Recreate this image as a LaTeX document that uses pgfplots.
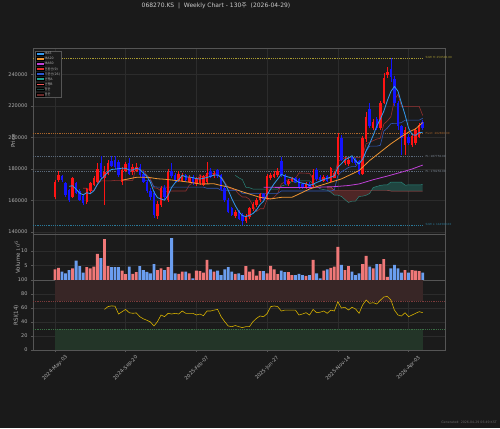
\documentclass[border=0pt]{standalone}
\usepackage{fontspec}
\setmainfont{DejaVu Sans}
\newfontfamily\kr{Noto Sans CJK KR}
\usepackage{pgfplots}
\usepackage{pgfplotstable}
\pgfplotsset{compat=1.18}

\definecolor{bgc}{HTML}{1A1A1A}
\definecolor{axbg}{HTML}{1B1B1B}
\definecolor{framec}{HTML}{555555}
\definecolor{gridc}{HTML}{2C2C2C}
\definecolor{tickc}{HTML}{B0B0B0}
\definecolor{upc}{HTML}{FF1414}
\definecolor{dnc}{HTML}{1414FF}
\definecolor{volup}{HTML}{F07878}
\definecolor{voldn}{HTML}{6B9EF0}
\definecolor{cma5}{HTML}{3399EE}
\definecolor{cma20}{HTML}{F09632}
\definecolor{cma60}{HTML}{C040D8}
\definecolor{cconv}{HTML}{963030}
\definecolor{cbase}{HTML}{3058B8}
\definecolor{cspa}{HTML}{2A8C80}
\definecolor{cspb}{HTML}{B85050}
\definecolor{cbull}{HTML}{1F4540}
\definecolor{cbear}{HTML}{4E2626}
\definecolor{lconv}{HTML}{E03030}
\definecolor{lbase}{HTML}{2A55D0}
\definecolor{lspa}{HTML}{22A090}
\definecolor{lspb}{HTML}{F05555}
\definecolor{lbull}{HTML}{1E4A42}
\definecolor{lbear}{HTML}{6A2828}
\definecolor{hic}{HTML}{A89A30}
\definecolor{pivc}{HTML}{A8642A}
\definecolor{plc}{HTML}{5A6878}
\definecolor{loc}{HTML}{2A7898}
\definecolor{rsic}{HTML}{D4AF00}
\definecolor{obfill}{HTML}{382626}
\definecolor{osfill}{HTML}{233528}
\definecolor{obline}{HTML}{7A3A3A}
\definecolor{osline}{HTML}{3A6E45}

% weekly candles (prices in thousands of KRW), volume in millions
\pgfplotstableread{
i o h l c v
0 162.4 173.0 161.0 171.9 3.7
1 173.0 178.5 172.0 176.2 4.2
5 162.4 175.0 161.5 174.0 4.0
9 159.0 168.0 158.0 167.0 4.4
10 166.0 172.0 165.0 171.0 4.0
11 170.0 175.5 169.0 174.0 4.6
12 172.0 184.0 171.0 180.0 9.0
14 174.5 182.0 157.0 178.0 14.1
15 177.0 186.0 176.0 183.5 4.8
19 172.0 181.0 170.0 179.5 3.2
20 179.0 184.5 178.0 183.0 2.0
22 178.0 183.0 176.0 181.0 2.1
23 179.0 183.5 178.0 181.5 2.7
29 150.0 159.5 148.5 158.0 3.4
30 157.0 169.5 156.0 168.0 4.0
32 160.0 180.0 159.0 178.0 4.4
35 172.5 178.5 172.0 177.0 2.1
36 172.5 177.5 172.0 176.5 2.9
38 172.0 176.0 171.0 175.0 2.3
40 170.5 175.0 169.5 174.0 3.2
41 171.0 176.0 170.0 175.0 3.1
42 170.0 176.5 169.5 175.5 2.5
43 171.5 184.5 170.5 177.5 6.9
45 175.5 178.5 174.5 177.5 2.9
51 150.0 154.0 149.0 152.5 2.1
54 147.0 151.5 145.8 150.0 4.8
55 149.5 156.0 148.5 155.0 2.9
56 154.5 159.0 153.5 158.0 3.7
57 157.0 161.5 156.0 160.0 1.5
58 160.0 165.0 159.0 164.0 3.1
60 161.0 177.0 160.0 175.5 2.3
61 174.5 177.5 173.0 176.0 4.9
62 175.0 178.5 174.0 177.0 3.7
63 176.0 180.5 175.0 178.5 2.0
66 170.5 173.5 169.5 172.5 2.7
67 172.5 175.0 171.5 174.0 1.7
71 168.5 171.5 167.5 170.5 1.4
73 169.0 180.0 168.5 176.5 6.9
76 172.5 176.0 172.0 175.0 3.2
78 172.0 181.5 171.5 180.5 4.2
79 174.5 179.0 174.0 177.5 4.6
80 177.0 203.0 176.5 200.0 11.4
82 183.5 187.5 182.5 185.5 3.4
83 183.0 187.0 182.0 186.0 4.8
87 177.0 201.0 176.0 199.5 5.5
88 199.0 216.0 197.0 213.0 8.3
90 206.0 212.0 204.5 210.0 4.0
92 206.0 223.0 205.0 222.0 5.5
93 222.0 241.0 221.0 238.0 7.2
94 239.5 245.0 238.0 241.5 1.1
99 195.5 206.5 189.0 205.0 3.4
101 195.0 202.5 194.0 201.0 3.4
102 196.5 206.0 195.5 205.0 3.2
103 200.5 209.0 199.5 208.0 3.1
}\upt
\pgfplotstableread{
i o h l c v
2 175.5 176.5 172.0 173.0 2.9
3 171.3 172.0 162.5 163.5 2.3
4 166.5 167.5 159.0 160.3 3.4
6 171.0 172.0 164.0 165.0 6.7
7 166.0 167.0 159.5 160.5 4.8
8 163.0 164.0 157.0 158.2 2.5
13 184.0 188.0 174.0 175.0 7.5
16 185.0 188.0 181.0 182.0 4.4
17 186.0 188.5 180.0 181.0 4.4
18 184.5 186.0 175.0 176.5 4.4
21 184.0 187.0 176.0 177.0 4.6
24 181.5 183.0 175.0 176.0 4.8
25 177.0 178.5 171.0 172.0 3.4
26 172.0 173.0 165.0 166.0 2.8
27 166.0 168.0 160.5 162.0 2.3
28 164.5 166.0 149.0 151.0 5.5
31 168.0 170.0 160.5 162.0 3.4
33 178.5 183.5 174.5 175.5 14.4
34 176.0 177.5 172.0 173.0 2.3
37 176.0 177.0 172.0 173.0 2.9
39 175.0 176.0 170.0 171.0 0.6
44 179.0 180.5 174.0 175.0 3.7
46 179.5 180.0 174.5 175.5 3.2
47 176.0 177.0 166.0 167.0 1.7
48 168.0 169.0 159.0 160.0 3.7
49 160.5 161.5 152.0 153.0 4.4
50 155.0 156.0 150.0 151.0 2.9
52 153.0 154.0 147.5 148.5 2.3
53 151.0 152.0 144.5 147.0 1.7
59 164.0 165.0 160.0 161.0 3.1
64 185.0 187.5 175.0 176.0 3.2
65 176.0 177.0 170.0 170.5 2.7
68 174.0 175.0 171.0 172.0 1.7
69 173.5 174.0 167.5 168.5 2.1
70 170.5 171.0 167.0 168.0 1.7
72 170.5 171.5 167.5 168.5 1.7
74 179.5 180.5 172.5 173.5 2.3
75 175.0 176.0 172.0 173.0 0.6
77 175.5 176.5 171.5 172.5 3.7
81 199.5 201.5 185.0 186.0 5.2
84 187.5 188.5 183.5 184.5 2.9
85 186.0 187.0 182.5 183.5 1.7
86 185.0 186.0 176.0 177.0 2.3
89 218.0 222.0 206.0 207.5 4.6
91 211.5 213.0 205.0 206.0 5.5
95 243.5 250.5 235.0 238.5 4.0
96 237.0 239.0 220.0 222.0 5.2
97 222.0 223.0 205.0 207.0 4.0
98 207.0 208.0 189.0 199.5 2.5
100 200.5 202.0 195.5 196.5 2.5
104 210.0 211.0 204.5 206.0 2.5
}\dnt
\pgfplotstableread{
i v
4 168.98
5 169.4
6 167.16
7 164.66
8 163.6
9 164.94
10 164.34
11 166.14
12 170.04
13 173.4
14 175.6
15 178.1
16 179.7
17 179.9
18 180.2
19 180.5
20 180.4
21 179.4
22 179.4
23 180.4
24 179.7
25 177.5
26 175.3
27 171.5
28 165.4
29 161.8
30 161.0
31 160.2
32 163.4
33 168.3
34 171.3
35 173.1
36 176.0
37 175.0
38 174.9
39 174.5
40 173.9
41 173.6
42 174.1
43 174.6
44 175.4
45 176.1
46 176.2
47 174.5
48 171.0
49 166.6
50 161.3
51 156.7
52 153.0
53 150.4
54 149.8
55 150.6
56 151.7
57 154.0
58 157.4
59 159.6
60 163.7
61 167.3
62 170.7
63 173.6
64 176.6
65 175.6
66 174.9
67 174.3
68 173.0
69 171.5
70 171.0
71 170.6
72 169.5
73 170.4
74 171.4
75 172.4
76 173.3
77 174.1
78 174.9
79 175.7
80 181.1
81 183.3
82 185.9
83 187.0
84 188.4
85 185.1
86 183.3
87 186.1
88 191.5
89 196.1
90 201.4
91 207.2
92 211.7
93 216.7
94 223.5
95 229.2
96 232.4
97 229.4
98 221.7
99 214.4
100 206.0
101 201.8
102 201.4
103 203.1
104 203.3
}\mafive
\pgfplotstableread{
i v
19 172.9
21 173.8
23 174.7
25 174.8
27 174.5
29 173.8
31 173.5
33 173.0
35 172.5
38 171.6
41 170.5
45 170.6
47 169.5
49 168.6
52 166.3
55 164.1
58 162.0
61 161.0
64 162.0
67 162.0
69 164.1
72 167.3
75 169.5
78 171.6
81 173.7
83 175.8
86 179.0
89 185.4
92 190.7
95 196.0
98 200.6
100 203.4
102 205.5
104 209.5
}\matwenty
\pgfplotstableread{
i v
59 168.4
65 168.3
70 168.2
74 168.4
79 168.8
83 169.5
86 170.5
90 173.2
94 175.5
98 178.0
101 180.0
104 182.5
}\masixty
\pgfplotstableread{
i v
8 167.75
9 167.75
10 166.75
11 166.25
12 170.5
13 172.5
16 172.5
17 172.75
22 172.75
23 181.75
24 179.25
25 179.25
26 176
27 173.75
28 168
29 167.75
30 166
32 165.75
33 166
37 166
38 169.75
39 171.25
40 171.25
41 176.5
42 174
43 177
46 177
47 175.25
48 171.75
49 168.25
50 167.25
51 166.75
52 164
53 162.25
54 162.25
55 160.75
56 156.75
57 153
58 154.75
59 154.75
60 160.75
61 161
62 162.15
63 164.5
64 170.5
65 171.75
66 173.25
67 173.75
68 173.75
69 177.5
72 177.25
73 173.5
77 173.75
78 174.25
79 174.5
80 185.25
81 185.75
82 187.25
86 187.25
87 188.5
88 196
91 199
92 199.5
93 208.5
94 210.5
95 213.25
96 223.75
97 227.5
98 219.75
103 219.75
104 214
}\conv
\pgfplotstableread{
i v
25 172.75
27 172.75
28 168.75
29 168.5
42 168.5
43 167.75
46 167.75
47 166.5
52 166.5
53 164.5
63 164.5
64 166
78 166
79 166.65
80 175.75
81 178.25
82 179.5
83 181
84 181.5
85 181.5
86 185
87 185
88 191.5
89 194.5
91 194.5
92 195
93 204
94 206
95 208.75
96 209
97 209
98 209.5
99 211
103 211
104 212.25
}\base
\pgfplotstableread{
i v
51 176
52 174.4
53 173.25
54 168.4
55 168.1
56 167.25
63 167.25
64 169.1
65 169.9
66 169.9
67 172.5
68 171.25
69 172.4
72 172.4
73 170.9
74 169.1
75 167.4
76 166.9
77 166.6
78 165.25
79 163.4
80 163.4
81 162.6
82 160.6
83 158.75
84 159.6
85 159.6
86 162.6
87 162.75
88 163.3
89 164.5
90 168.25
91 168.9
92 169.6
93 169.9
94 169.9
95 171.75
96 171.6
98 171.6
99 169.75
100 169.9
103 169.9
104 170.1
}\spana
\pgfplotstableread{
i v
77 168.5
78 168.5
79 166.5
94 166.5
95 166
104 166
}\spanb
\pgfplotstableread{
i v
14 58
15 62
16 63
17 62.6
18 51.4
19 54.8
20 58
21 53.3
22 52.4
23 53
24 47.6
25 44.5
26 42.5
27 40
28 34.3
29 40.5
30 50
31 47.6
32 52.4
33 51.4
34 52.4
35 51.4
36 55.7
37 52.4
38 52.4
39 52.4
40 50
41 51.4
42 49
43 55.7
44 55.7
45 57
46 58
47 47.6
48 40.5
49 34.3
50 33.3
51 35
52 33.3
53 32
54 33.3
55 33.3
56 40.5
57 45.2
58 48.6
59 47.6
60 52
61 61.9
62 62.9
63 62
64 55.7
65 57
66 57
67 57
68 57
69 50
70 51.4
71 53.3
72 50
73 58
74 53.3
75 54
76 55.7
77 52.4
78 57
79 55.7
80 69
81 60
82 61
83 57.1
84 61
85 58.6
86 52.4
87 64.3
88 71.4
89 66.7
90 67.6
91 65.7
92 71
93 75.7
94 76.7
95 71.4
96 57
97 50
98 48.6
99 53.3
100 47.6
101 50
102 52.4
103 54.8
104 53.3
}\rsi

\pgfplotsset{
  panel/.style={
    scale only axis, width=412pt, anchor=south west,
    xmin=-6.2, xmax=110.3,
    axis background/.style={fill=axbg},
    axis line style={draw=framec, line width=0.7pt},
    xtick={0,20,40,60,80,100},
    xmajorgrids, ymajorgrids,
    grid style={draw=gridc, line width=0.35pt},
    tick align=outside, major tick length=2pt,
    xtick pos=left, ytick pos=left,
    every tick/.style={draw=framec, line width=0.5pt},
    tick label style={font=\fontsize{5}{6}\selectfont, text=tickc},
    /pgf/number format/assume math mode=true,
    ylabel style={font=\fontsize{5.5}{6.5}\selectfont, text=tickc},
  },
  candlebody/.style={draw=none, mark=none, forget plot,
    error bars/.cd, y dir=both, y explicit, error mark=none,
    error bar style={line width=2.5pt, draw=#1}},
  candlewick/.style={draw=none, mark=none, forget plot,
    error bars/.cd, y dir=both, y explicit, error mark=none,
    error bar style={line width=0.6pt, draw=#1}},
}

\begin{document}
\begin{tikzpicture}[x=1pt,y=1pt]
\path[use as bounding box, fill=bgc] (0,0) rectangle (500,428);

% ---------------- price panel ----------------
\begin{axis}[panel, at={(33pt,194pt)}, height=186pt,
  ymin=138.73, ymax=256.82,
  ytick={140,160,180,200,220,240},
  yticklabels={140000,160000,180000,200000,220000,240000},
  xticklabels={},
  major x tick style={draw=none},
  ylabel={Price},
  ylabel style={at={(axis description cs:-0.0485,0.5)}, anchor=center},
  clip=false,
  legend cell align=left,
  legend style={at={(axis description cs:0.005,0.986)}, anchor=north west,
    fill=axbg, draw=framec, line width=0.5pt,
    font=\fontsize{3.2}{3.8}\selectfont, text=tickc,
    inner sep=0.8pt, row sep=0.7pt,
    nodes={inner sep=0.5pt, text height=2.6pt, text depth=0.8pt},
    legend image code/.code={\fill[##1] (0pt,-1.2pt) rectangle (7.5pt,1.6pt);}},
]
\addlegendimage{fill=cma5}\addlegendentry{MA5}
\addlegendimage{fill=cma20}\addlegendentry{MA20}
\addlegendimage{fill=cma60}\addlegendentry{MA60}
\addlegendimage{fill=lconv}\addlegendentry{{\kr 전환선}(9)}
\addlegendimage{fill=lbase}\addlegendentry{{\kr 기준선}(26)}
\addlegendimage{fill=lspa}\addlegendentry{{\kr 선행}A}
\addlegendimage{fill=lspb}\addlegendentry{{\kr 선행}B}
\addlegendimage{fill=lbull}\addlegendentry{{\kr 양운}}
\addlegendimage{fill=lbear}\addlegendentry{{\kr 음운}}

% ichimoku cloud fills
\addplot[fill=cbear, draw=none, forget plot] coordinates {
 (77,166.6) (78,165.25) (79,163.4) (80,163.4) (81,162.6) (82,160.6) (83,158.75)
 (84,159.6) (85,159.6) (86,162.6) (87,162.75) (88,163.3) (89,164.5) (89.53,166.5)
 (79,166.5) (78,168.5) (77,168.5)};
\addplot[fill=cbull, draw=none, forget plot] coordinates {
 (89.53,166.5) (90,168.25) (91,168.9) (92,169.6) (93,169.9) (94,169.9) (95,171.75)
 (96,171.6) (98,171.6) (99,169.75) (100,169.9) (103,169.9) (104,170.1)
 (104,166) (95,166) (94,166.5)};

% reference levels
\draw[hic, line width=0.5pt, dash pattern=on 1.2pt off 1pt] (axis cs:-6.2,250.5) -- (axis cs:104,250.5);
\draw[pivc, line width=0.5pt, dash pattern=on 1.2pt off 1pt] (axis cs:-6.2,202.65) -- (axis cs:104,202.65);
\draw[plc, line width=0.6pt, dash pattern=on 1.2pt off 1pt] (axis cs:-6.2,187.75) -- (axis cs:104,187.75);
\draw[plc, line width=0.6pt, dash pattern=on 1.2pt off 1pt] (axis cs:-6.2,178.25) -- (axis cs:104,178.25);
\draw[loc, line width=0.5pt, dash pattern=on 1.2pt off 1pt] (axis cs:-6.2,144.5) -- (axis cs:104,144.5);
\node[anchor=west, font=\fontsize{2.8}{3}\selectfont, text=hic, inner sep=0.5pt] at (axis cs:104.6,250.5) {52W H: 250500.00};
\node[anchor=west, font=\fontsize{2.8}{3}\selectfont, text=pivc, inner sep=0.5pt] at (axis cs:104.6,202.65) {Pivot: 202650.00};
\node[anchor=west, font=\fontsize{2.8}{3}\selectfont, text=plc!80!white, inner sep=0.5pt] at (axis cs:104.6,187.75) {PL: 187750.00};
\node[anchor=west, font=\fontsize{2.8}{3}\selectfont, text=plc!80!white, inner sep=0.5pt] at (axis cs:104.6,178.25) {PL: 178250.00};
\node[anchor=west, font=\fontsize{2.8}{3}\selectfont, text=loc, inner sep=0.5pt] at (axis cs:104.6,144.5) {52W L: 144500.00};

% ichimoku lines
\addplot[cspa, line width=0.45pt, forget plot] table[x=i,y=v] {\spana};
\addplot[cspb, line width=0.45pt, forget plot] table[x=i,y=v] {\spanb};
\addplot[cconv, line width=0.6pt, forget plot] table[x=i,y=v] {\conv};
\addplot[cbase, line width=0.6pt, forget plot] table[x=i,y=v] {\base};

% candles
\addplot[candlewick=upc] table[x=i, y expr={(\thisrow{h}+\thisrow{l})/2}, y error expr={(\thisrow{h}-\thisrow{l})/2}] {\upt};
\addplot[candlewick=dnc] table[x=i, y expr={(\thisrow{h}+\thisrow{l})/2}, y error expr={(\thisrow{h}-\thisrow{l})/2}] {\dnt};
\addplot[candlebody=upc] table[x=i, y expr={(\thisrow{o}+\thisrow{c})/2}, y error expr={abs(\thisrow{c}-\thisrow{o})/2}] {\upt};
\addplot[candlebody=dnc] table[x=i, y expr={(\thisrow{o}+\thisrow{c})/2}, y error expr={abs(\thisrow{c}-\thisrow{o})/2}] {\dnt};

% moving averages
\addplot[cma60, line width=0.8pt, forget plot] table[x=i,y=v] {\masixty};
\addplot[cma20, line width=0.8pt, forget plot] table[x=i,y=v] {\matwenty};
\addplot[cma5, line width=0.8pt, forget plot] table[x=i,y=v] {\mafive};
\end{axis}

% ---------------- volume panel ----------------
\begin{axis}[panel, at={(33pt,148pt)}, height=46pt,
  ymin=0, ymax=15.86,
  ytick={5,10},
  xticklabels={},
  major x tick style={draw=none},
  ylabel={Volume $10^6$},
  ylabel style={at={(axis description cs:-0.038,0.5)}, anchor=center},
]
\addplot[ybar, bar width=0.8, bar shift=0pt, fill=volup, draw=none, forget plot] table[x=i,y=v] {\upt};
\addplot[ybar, bar width=0.8, bar shift=0pt, fill=voldn, draw=none, forget plot] table[x=i,y=v] {\dnt};
\end{axis}

% ---------------- RSI panel ----------------
\begin{axis}[panel, at={(33pt,78pt)}, height=70pt,
  ymin=0, ymax=100,
  ytick={0,20,40,60,80,100},
  xticklabels={2024-May-03,2024-Sep-20,2025-Feb-07,2025-Jun-27,2025-Nov-14,2026-Apr-03},
  xticklabel style={yshift=-16pt, rotate=45, anchor=center},
  ylabel={RSI(14)},
  ylabel style={at={(axis description cs:-0.041,0.5)}, anchor=center},
]
\fill[obfill] (axis cs:0,70) rectangle (axis cs:104.2,100);
\fill[osfill] (axis cs:0,0) rectangle (axis cs:104.2,30);
\draw[obline, line width=0.6pt, dash pattern=on 1.2pt off 1pt] (axis cs:-6.2,70) -- (axis cs:110.3,70);
\draw[osline, line width=0.6pt, dash pattern=on 1.2pt off 1pt] (axis cs:-6.2,30) -- (axis cs:110.3,30);
\addplot[rsic, line width=0.6pt, forget plot] table[x=i,y=v] {\rsi};
\end{axis}

\node[font=\fontsize{6}{7}\selectfont, text=white!80!black] at (216,422) {068270.KS \ | \ Weekly Chart - 130{\kr 주} \ (2026-04-29)};
\node[anchor=east, font=\fontsize{3.2}{4}\selectfont, text=white!40!black, inner sep=0pt] at (497,5.3) {Generated: 2026-04-29 06:49 KST};
\end{tikzpicture}
\end{document}
